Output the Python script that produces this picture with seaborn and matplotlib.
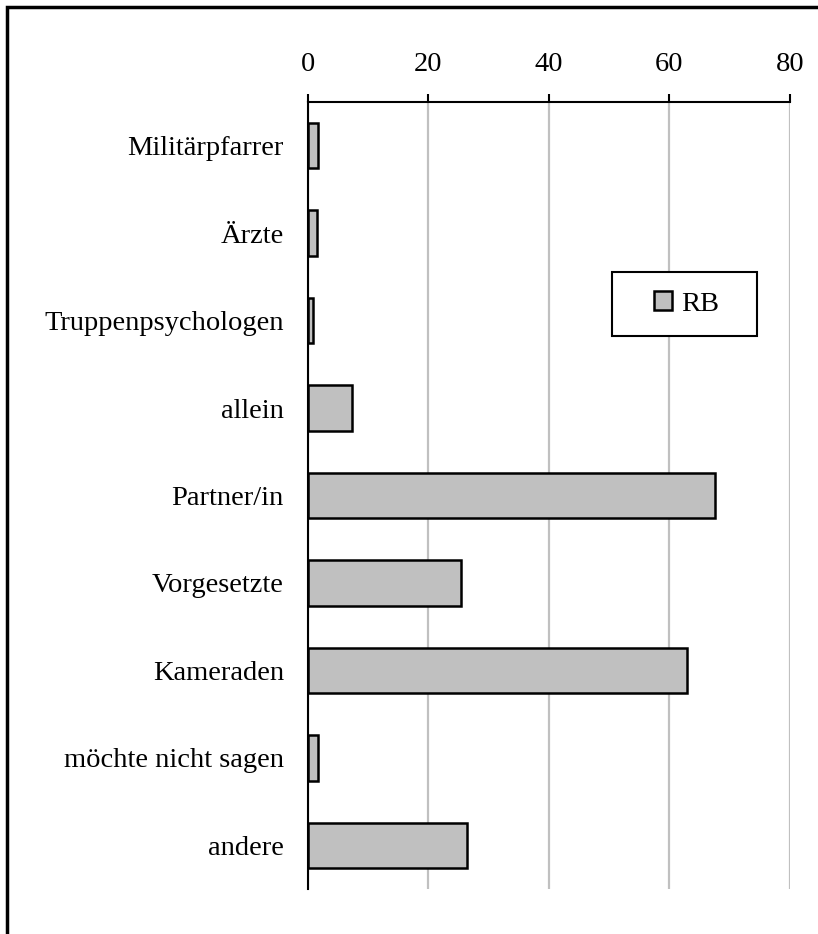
import pandas as pd
import seaborn as sns
import matplotlib.pyplot as plt
from matplotlib.patches import Rectangle
from matplotlib.ticker import FixedLocator

# Data
categories = ["Militärpfarrer", "Ärzte", "Truppenpsychologen", "allein",
              "Partner/in", "Vorgesetzte", "Kameraden",
              "möchte nicht sagen", "andere"]
rb_values = [1.8, 1.5, 0.9, 7.3, 67.5, 25.4, 63.0, 1.7, 26.4]
x_ticks = [0, 20, 40, 60, 80]

df = pd.DataFrame({"Kategorie": categories, "RB": rb_values})

sns.set_style("white")
plt.rcParams["font.family"] = ["Liberation Serif", "DejaVu Serif"]
plt.rcParams["text.color"] = "black"
plt.rcParams["xtick.color"] = "black"
plt.rcParams["ytick.color"] = "black"

fig = plt.figure(figsize=(8.18, 9.34), dpi=100)
ax = fig.add_axes([307.5 / 818, 1 - 889 / 934, (790 - 307.5) / 818, (889 - 102) / 934])

sns.barplot(data=df, x="RB", y="Kategorie", orient="h", color="#c0c0c0",
            saturation=1, edgecolor="black", linewidth=1.8, width=0.52,
            label="RB", ax=ax)

ax.set_xlim(0, 80)
ax.set_ylim(len(categories) - 0.5, -0.5)
ax.set_xlabel("")
ax.set_ylabel("")

# x axis on top
ax.xaxis.tick_top()
ax.set_xticks(x_ticks)
ax.tick_params(axis="x", which="major", direction="out", length=6, width=1.5,
               labelsize=20.5, pad=12)
ax.grid(axis="x", color="#c0c0c0", linewidth=1.6)
ax.set_axisbelow(True)

# y axis: labels at categories, ticks between categories
ax.tick_params(axis="y", which="major", length=0, labelsize=20.5, pad=17)
ax.yaxis.set_minor_locator(FixedLocator([i + 0.5 for i in range(-1, len(categories))]))
ax.tick_params(axis="y", which="minor", direction="out", length=4, width=1.5)

for side in ["right", "bottom"]:
    ax.spines[side].set_visible(False)
for side in ["top", "left"]:
    ax.spines[side].set_linewidth(1.5)
    ax.spines[side].set_color("black")

# legend box (wide frame like the original), entry centred inside it
lx0, ly0, lx1, ly1 = 612 / 818, 1 - 336 / 934, 757 / 818, 1 - 272 / 934
ax.add_patch(Rectangle((lx0, ly0), lx1 - lx0, ly1 - ly0,
                       transform=fig.transFigure, facecolor="white",
                       edgecolor="black", linewidth=1.5, zorder=4,
                       clip_on=False))
leg = ax.legend(loc="center", fontsize=20.5, frameon=False,
                handlelength=0.65, handleheight=0.65, handletextpad=0.3,
                borderpad=0, borderaxespad=0)
leg.set_bbox_to_anchor(((lx0 + lx1) / 2 + 2 / 818, (ly0 + ly1) / 2),
                       transform=fig.transFigure)
leg.set_zorder(6)

# outer chart frame (only left and top visible in the crop)
fig.patches.append(Rectangle((7 / 818, -0.2), 1.5, 1.2 - 7 / 934,
                             transform=fig.transFigure, fill=False,
                             edgecolor="black", linewidth=2.5))

fig.savefig("out.png", dpi=100)
